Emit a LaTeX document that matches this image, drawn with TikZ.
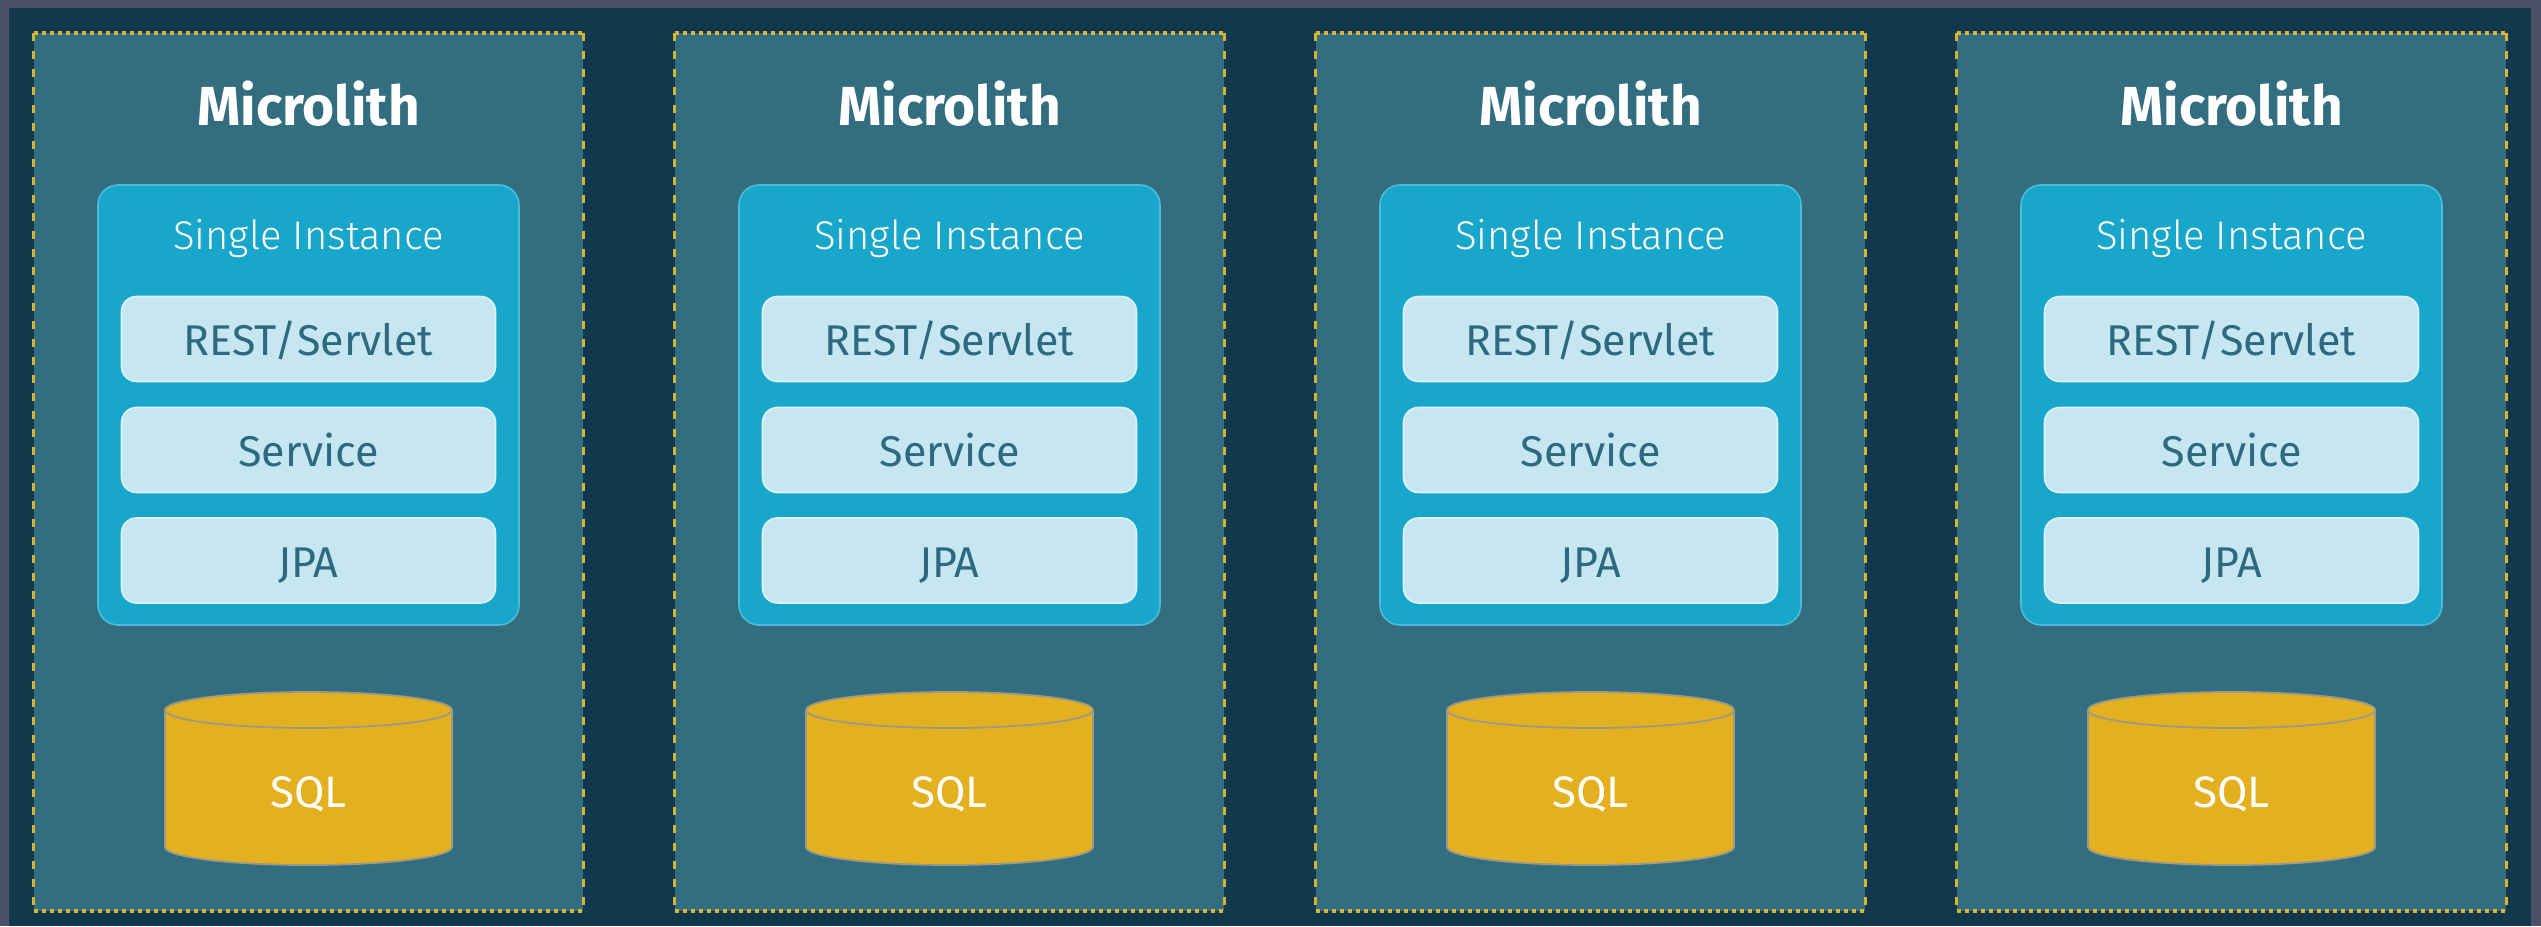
\documentclass[tikz,border=0pt]{standalone}
\usepackage{fontspec}
\setmainfont{Fira Sans}
\newfontfamily\lightfont{Fira Sans Light}

\definecolor{framegray}{HTML}{4A5166}
\definecolor{navy}{HTML}{12384D}
\definecolor{panelfill}{HTML}{336E80}
\definecolor{gold}{HTML}{D8B52E}
\definecolor{instfill}{HTML}{18A7CB}
\definecolor{instline}{HTML}{4CBCDB}
\definecolor{layerfill}{HTML}{C6E7F2}
\definecolor{layerline}{HTML}{DDF2F8}
\definecolor{layertext}{HTML}{2D6A80}
\definecolor{dbfill}{HTML}{E3B020}
\definecolor{dbline}{HTML}{9C9A86}

\begin{document}
\begin{tikzpicture}[x=0.5pt,y=0.5pt,
  panelbox/.style={fill=panelfill, inner sep=0pt, minimum width=274.5pt, minimum height=439pt},
  topedge/.style={draw=gold, line width=2pt, dash pattern=on 2pt off 2pt},
  sideedge/.style={draw=gold, line width=1.6pt, dash pattern=on 4pt off 5pt},
  title/.style={font=\bfseries\fontsize{27.5}{32}\selectfont, text=white},
  instbox/.style={fill=instfill, draw=instline, line width=0.8pt, rounded corners=10pt,
    minimum width=210.5pt, minimum height=220pt, inner sep=0pt},
  instlabel/.style={font=\lightfont\fontsize{20}{24}\selectfont, text=white},
  layer/.style={fill=layerfill, draw=layerline, line width=0.8pt, rounded corners=7.5pt,
    minimum width=187pt, minimum height=42.5pt, inner sep=0pt,
    text height=17pt, text depth=0pt,
    font=\fontsize{21.5}{25}\selectfont, text=layertext},
  db/.style={fill=dbfill, draw=dbline, line width=0.9pt},
  dblabel/.style={font=\fontsize{22}{26}\selectfont, text=white}
]
% outer frame and dark backdrop
\fill[framegray] (0,0) rectangle (2541,926);
\fill[navy] (9,0) rectangle (2531,918);

\foreach \k in {0,1,2,3}{
  \pgfmathsetmacro\cx{308.5+641*\k}
  % panel with dotted top/bottom and dashed sides
  \node[panelbox] (panel\k) at (\cx,454) {};
  \draw[topedge] (panel\k.north west) -- (panel\k.north east);
  \draw[topedge] (panel\k.south west) -- (panel\k.south east);
  \draw[sideedge] (panel\k.north west) -- (panel\k.south west);
  \draw[sideedge] (panel\k.north east) -- (panel\k.south east);

  \node[title] (title\k) at (\cx,822) {Microlith};

  % the single instance with its three layers
  \node[instbox] (inst\k) at (\cx,521) {};
  \node[instlabel] (instlabel\k) at (\cx,687) {Single Instance};
  \node[layer] (rest\k) at (\cx,587) {REST/Servlet};
  \node[layer] (service\k) at (\cx,476) {Service};
  \node[layer] (jpa\k) at (\cx,365.5) {JPA};

  % database cylinder
  \fill[dbfill] (\cx-143.5,216) -- (\cx-143.5,79)
    arc[start angle=180, end angle=360, x radius=143.5, y radius=18]
    -- (\cx+143.5,216)
    arc[start angle=0, end angle=180, x radius=143.5, y radius=18] -- cycle;
  \draw[db, fill=none] (\cx-143.5,216) -- (\cx-143.5,79)
    arc[start angle=180, end angle=360, x radius=143.5, y radius=18]
    -- (\cx+143.5,216)
    arc[start angle=0, end angle=180, x radius=143.5, y radius=18];
  \draw[db, fill=none] (\cx-143.5,216)
    arc[start angle=180, end angle=360, x radius=143.5, y radius=18];
  \node[dblabel] (sql\k) at (\cx,132) {SQL};
}
\end{tikzpicture}
\end{document}
